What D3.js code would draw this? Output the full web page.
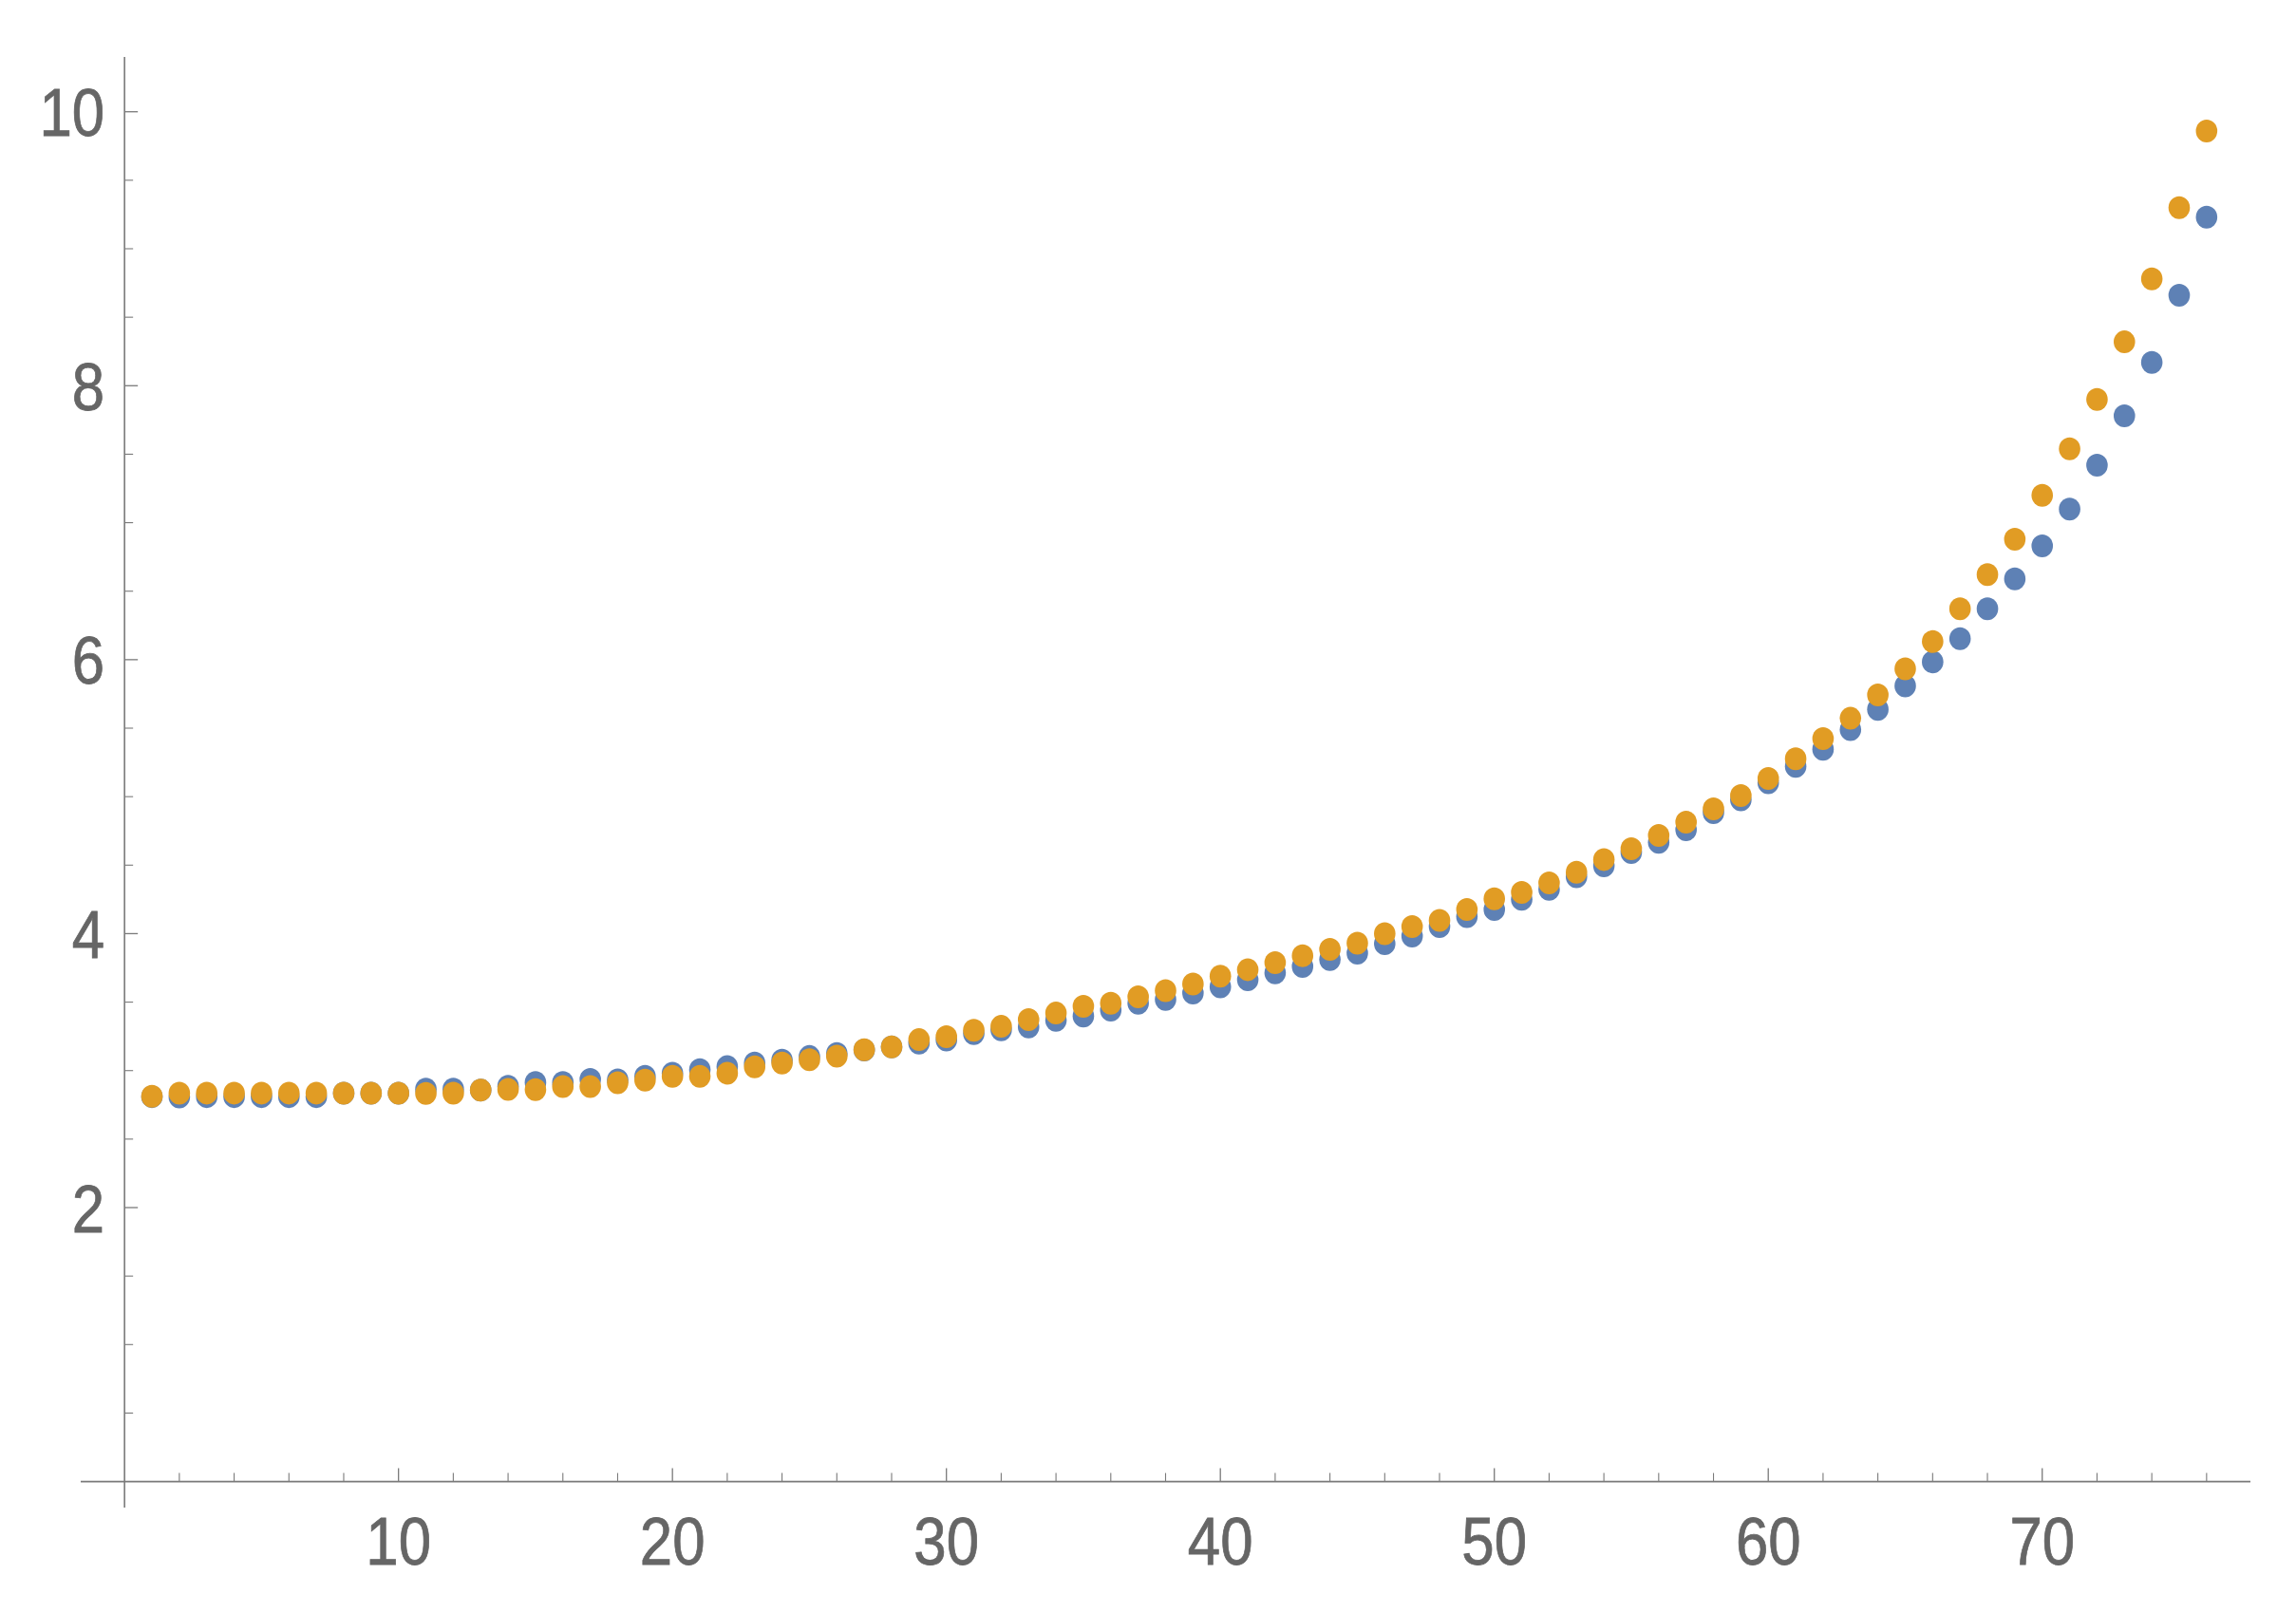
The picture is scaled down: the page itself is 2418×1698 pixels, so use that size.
<!DOCTYPE html>
<html>
<head>
<meta charset="utf-8">
<script src="https://cdn.jsdelivr.net/npm/d3@7"></script>
<style>
  html, body { margin: 0; padding: 0; background: #ffffff; }
  svg { display: block; }
</style>
</head>
<body>
<svg id="chart" width="2418" height="1698"></svg>
<script>
// ---- data ----
const xValues = d3.range(1, 77);

const seriesBlue = [
  2.810, 2.807, 2.810, 2.810, 2.810, 2.810, 2.810, 2.835, 2.835, 2.835,
  2.865, 2.865, 2.858, 2.886, 2.914, 2.914, 2.935, 2.932, 2.958, 2.980,
  3.006, 3.030, 3.055, 3.076, 3.103, 3.124, 3.150, 3.173, 3.200, 3.223,
  3.270, 3.297, 3.318, 3.367, 3.399, 3.441, 3.492, 3.519, 3.566, 3.612,
  3.663, 3.713, 3.760, 3.811, 3.857, 3.926, 3.982, 4.051, 4.125, 4.176,
  4.250, 4.324, 4.416, 4.495, 4.592, 4.666, 4.759, 4.883, 4.976, 5.101,
  5.221, 5.346, 5.489, 5.637, 5.808, 5.984, 6.153, 6.372, 6.590, 6.830,
  7.100, 7.420, 7.780, 8.170, 8.660, 9.230
];

const seriesOrange = [
  2.812, 2.835, 2.836, 2.836, 2.836, 2.836, 2.836, 2.835, 2.835, 2.835,
  2.833, 2.835, 2.858, 2.863, 2.861, 2.884, 2.884, 2.911, 2.930, 2.958,
  2.958, 2.981, 3.027, 3.055, 3.080, 3.106, 3.152, 3.173, 3.226, 3.247,
  3.295, 3.323, 3.372, 3.420, 3.469, 3.492, 3.538, 3.584, 3.632, 3.690,
  3.737, 3.788, 3.838, 3.885, 3.931, 4.000, 4.051, 4.097, 4.176, 4.254,
  4.301, 4.370, 4.449, 4.541, 4.620, 4.717, 4.814, 4.911, 5.008, 5.133,
  5.276, 5.424, 5.572, 5.743, 5.933, 6.132, 6.372, 6.621, 6.880, 7.200,
  7.540, 7.900, 8.320, 8.780, 9.300, 9.860
];

const xMajorTicks = [10, 20, 30, 40, 50, 60, 70];
const xMinorTicks = [2, 4, 6, 8, 12, 14, 16, 18, 22, 24, 26, 28, 32, 34, 36, 38,
                     42, 44, 46, 48, 52, 54, 56, 58, 62, 64, 66, 68, 72, 74, 76];
const yMajorTicks = [2, 4, 6, 8, 10];
const yMinorTicks = [0.5, 1, 1.5, 2.5, 3, 3.5, 4.5, 5, 5.5, 6.5, 7, 7.5, 8.5, 9, 9.5];

const seriesColors = ["#5E81B5", "#E19C24"];

// ---- layout ----
const svg = d3.select("#chart");
const x = d3.scaleLinear().domain([-1.6, 77.6]).range([85, 2370]);
const y = d3.scaleLinear().domain([-0.19, 10.4]).range([1588, 60]);

const axisColor = "#7a7a7a";
const textColor = "#666666";
const majorLen = 14, minorLen = 9;

const gAxes = svg.append("g");

gAxes.append("line")
  .attr("x1", x(-1.6)).attr("x2", x(77.6))
  .attr("y1", y(0)).attr("y2", y(0))
  .attr("stroke", axisColor).attr("stroke-width", 1.6);

gAxes.append("line")
  .attr("x1", x(0)).attr("x2", x(0))
  .attr("y1", y(-0.19)).attr("y2", y(10.4))
  .attr("stroke", axisColor).attr("stroke-width", 1.6);

gAxes.selectAll(".xmaj").data(xMajorTicks).enter().append("line")
  .attr("x1", d => x(d)).attr("x2", d => x(d))
  .attr("y1", y(0)).attr("y2", y(0) - majorLen)
  .attr("stroke", axisColor).attr("stroke-width", 1.3);
gAxes.selectAll(".xmin").data(xMinorTicks).enter().append("line")
  .attr("x1", d => x(d)).attr("x2", d => x(d))
  .attr("y1", y(0)).attr("y2", y(0) - minorLen)
  .attr("stroke", axisColor).attr("stroke-width", 1.1);

gAxes.selectAll(".ymaj").data(yMajorTicks).enter().append("line")
  .attr("x1", x(0)).attr("x2", x(0) + majorLen)
  .attr("y1", d => y(d)).attr("y2", d => y(d))
  .attr("stroke", axisColor).attr("stroke-width", 1.3);
gAxes.selectAll(".ymin").data(yMinorTicks).enter().append("line")
  .attr("x1", x(0)).attr("x2", x(0) + minorLen)
  .attr("y1", d => y(d)).attr("y2", d => y(d))
  .attr("stroke", axisColor).attr("stroke-width", 1.1);

const fontFamily = "'Liberation Sans', Arial, sans-serif";
const fontSize = 71;
const squeeze = 0.87;

gAxes.selectAll(".xlab").data(xMajorTicks).enter().append("text")
  .attr("transform", d => `translate(${x(d)},${y(0) + 87}) scale(${squeeze},1)`)
  .attr("text-anchor", "middle")
  .attr("font-family", fontFamily)
  .attr("font-size", fontSize)
  .attr("fill", textColor)
  .attr("stroke", textColor)
  .attr("stroke-width", 0.8)
  .text(d => d);

gAxes.selectAll(".ylab").data(yMajorTicks).enter().append("text")
  .attr("transform", d => `translate(${x(0) - 21},${y(d) + 25.5}) scale(${squeeze},1)`)
  .attr("text-anchor", "end")
  .attr("font-family", fontFamily)
  .attr("font-size", fontSize)
  .attr("fill", textColor)
  .attr("stroke", textColor)
  .attr("stroke-width", 0.8)
  .text(d => d);

// ---- points ----
const series = [seriesBlue, seriesOrange];
series.forEach((vals, i) => {
  svg.append("g").selectAll("ellipse")
    .data(vals.map((v, j) => ({ x: xValues[j], y: v })))
    .enter().append("ellipse")
    .attr("cx", d => x(d.x))
    .attr("cy", d => y(d.y))
    .attr("rx", 11.3)
    .attr("ry", 12)
    .attr("fill", seriesColors[i]);
});
</script>
</body>
</html>
